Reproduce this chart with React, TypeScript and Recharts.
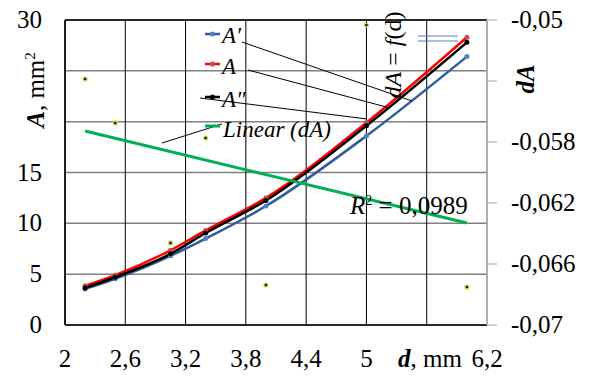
import React from 'react';
import {
  ComposedChart,
  Line,
  Scatter,
  XAxis,
  YAxis,
  CartesianGrid,
  ReferenceLine,
} from 'recharts';

// d, mm
const dValues = [2.2, 2.5, 3.05, 3.4, 4.0, 5.0, 6.0];
// A' , A , A'' (mm^2)
const aPrime = [3.55, 4.55, 6.8, 8.5, 11.7, 18.6, 26.4];
const aMain = [3.85, 4.9, 7.35, 9.3, 12.5, 19.9, 28.3];
const aDouble = [3.65, 4.7, 7.0, 9.05, 12.25, 19.6, 27.8];
// dA (right axis)
const dAValues = [-0.05387, -0.05675, -0.06462, -0.05774, -0.06738, -0.05033, -0.06751];
// Linear (dA) trendline ends
const trendD = [2.2, 6.0];
const trendDA = [-0.05728, -0.06331];

const xTicks = [2, 2.6, 3.2, 3.8, 4.4, 5, 5.6, 6.2];
const leftTicks = [0, 5, 10, 15, 20, 25, 30];
const rightTicks = [-0.07, -0.066, -0.062, -0.058, -0.054, -0.05];
const xHidden = [5.6];
const leftHidden = [20, 25];
const rightHidden = [-0.054];

const data = dValues.map((d, i) => ({
  d,
  a1: aPrime[i],
  a: aMain[i],
  a2: aDouble[i],
  dA: dAValues[i],
}));
const trendData = trendD.map((d, i) => ({ d, trend: trendDA[i] }));

const FONT = 'Liberation Serif';
const fmt = (v: number) => String(v).replace('.', ',');

const XTick = (props: any) => {
  const { x, payload } = props;
  if (xHidden.includes(payload.value)) return null;
  return (
    <text x={x} y={367} textAnchor="middle" fontFamily={FONT} fontSize={25} fill="#000">
      {fmt(payload.value)}
    </text>
  );
};

const LeftTick = (props: any) => {
  const { y, payload } = props;
  if (leftHidden.includes(payload.value)) return null;
  return (
    <text x={42} y={y + 8} textAnchor="end" fontFamily={FONT} fontSize={25} fill="#000">
      {fmt(payload.value)}
    </text>
  );
};

const RightTick = (props: any) => {
  const { y, payload } = props;
  if (rightHidden.includes(payload.value)) return null;
  return (
    <text x={511} y={y + 8} textAnchor="start" fontFamily={FONT} fontSize={25} fill="#000">
      {fmt(payload.value)}
    </text>
  );
};

const DADot = (props: any) => {
  const { cx, cy } = props;
  if (cx == null || cy == null) return null;
  return (
    <g>
      <circle cx={cx} cy={cy} r={2.6} fill="#c9d65a" />
      <circle cx={cx} cy={cy} r={1.3} fill="#1a1a1a" />
    </g>
  );
};

const BLUE = '#2f5d9b';
const BLUE_M = '#4f81bd';
const RED = '#ff0000';
const RED_M = '#c0504d';
const GREEN = '#00b050';

const legendRows = [
  { label: 'A′', color: BLUE, marker: BLUE_M, y: 34, ty: 43 },
  { label: 'A', color: RED, marker: RED_M, y: 64, ty: 74 },
  { label: 'A″', color: '#000', marker: '#000', y: 97, ty: 107 },
];

const css = `
@font-face { font-family: 'ChartSerif'; src: local('Liberation Serif'), local('LiberationSerif'); font-style: normal; font-weight: 400; }
@font-face { font-family: 'ChartSerif'; src: local('Liberation Serif Italic'), local('LiberationSerif-Italic'); font-style: italic; font-weight: 400; }
@font-face { font-family: 'ChartSerif'; src: local('Liberation Serif Bold Italic'), local('LiberationSerif-BoldItalic'); font-style: italic; font-weight: 700; }
#root svg text, #root svg tspan { font-family: 'Liberation Serif', 'ChartSerif', serif !important; }
`;

export default function App() {
  return (
    <div
      style={{
        position: 'absolute',
        left: 0,
        top: 0,
        width: 596,
        height: 376,
        background: '#fff',
        fontFamily: FONT,
      }}
    >
      <style>{css}</style>
      <ComposedChart
        width={596}
        height={376}
        data={data}
        margin={{ top: 20, right: 0, bottom: 0, left: 0 }}
      >
        <CartesianGrid
          yAxisId="left"
          vertical={false}
          stroke="#808080"
          strokeWidth={1.5}
          horizontalValues={leftTicks}
        />
        <CartesianGrid
          yAxisId="left"
          horizontal={false}
          stroke="#000"
          strokeWidth={1}
          verticalValues={xTicks}
        />
        <XAxis
          dataKey="d"
          type="number"
          domain={[2, 6.2]}
          ticks={xTicks}
          interval={0}
          height={51}
          axisLine={{ stroke: '#000', strokeWidth: 1.5 }}
          tickLine={false}
          tick={<XTick />}
          allowDataOverflow
        />
        <YAxis
          yAxisId="left"
          type="number"
          domain={[0, 30]}
          ticks={leftTicks}
          interval={0}
          width={65}
          axisLine={{ stroke: '#000', strokeWidth: 1.5 }}
          tickLine={false}
          tick={<LeftTick />}
        />
        <YAxis
          yAxisId="right"
          orientation="right"
          type="number"
          domain={[-0.07, -0.05]}
          ticks={rightTicks}
          interval={0}
          width={109}
          axisLine={{ stroke: '#bfbfbf', strokeWidth: 1.5 }}
          tickLine={{ stroke: '#bfbfbf', strokeWidth: 1.5 }}
          tickSize={10}
          tick={<RightTick />}
        />
        <ReferenceLine yAxisId="left" y={30} stroke="#000" strokeWidth={1.5} />
        <Scatter
          yAxisId="right"
          dataKey="dA"
          shape={<DADot />}
          isAnimationActive={false}
        />
        <Line
          yAxisId="left"
          type="monotone"
          dataKey="a1"
          stroke={BLUE}
          strokeWidth={2.5}
          dot={{ r: 2.5, fill: BLUE_M, stroke: 'none' }}
          activeDot={false}
          isAnimationActive={false}
        />
        <Line
          yAxisId="left"
          type="monotone"
          dataKey="a"
          stroke={RED}
          strokeWidth={2.5}
          dot={{ r: 2.5, fill: RED_M, stroke: 'none' }}
          activeDot={false}
          isAnimationActive={false}
        />
        <Line
          yAxisId="left"
          type="monotone"
          dataKey="a2"
          stroke="#000"
          strokeWidth={2.5}
          dot={{ r: 2.5, fill: '#000', stroke: 'none' }}
          activeDot={false}
          isAnimationActive={false}
        />
        <Line
          yAxisId="right"
          data={trendData}
          dataKey="trend"
          type="linear"
          stroke={GREEN}
          strokeWidth={3}
          dot={false}
          activeDot={false}
          isAnimationActive={false}
        />
      </ComposedChart>
      <svg
        width={596}
        height={376}
        fontFamily={FONT}
        style={{ position: 'absolute', left: 0, top: 0, pointerEvents: 'none' }}
      >
        {/* leader lines */}
        <g stroke="#000" strokeWidth={1}>
          <line x1={242} y1={42} x2={412} y2={101} />
          <line x1={248} y1={70} x2={390} y2={108} />
          <line x1={200} y1={98} x2={367} y2={119} />
          <line x1={162} y1={143} x2={222} y2={124} />
        </g>
        {/* legend */}
        {legendRows.map((r) => (
          <g key={r.label}>
            <line x1={205} y1={r.y} x2={220} y2={r.y} stroke={r.color} strokeWidth={2.5} />
            <circle cx={212.5} cy={r.y} r={2.5} fill={r.marker} />
            <text x={222} y={r.ty} fontFamily={FONT} fontSize={23} fontStyle="italic" fill="#000">
              {r.label}
            </text>
          </g>
        ))}
        <line x1={205} y1={126} x2={220} y2={126} stroke={GREEN} strokeWidth={3} />
        <text x={223} y={137} fontFamily={FONT} fontSize={23} fontStyle="italic" fill="#000">
          Linear (dA)
        </text>
        {/* dA = f(d) */}
        <text
          transform="translate(401,55) rotate(-90)"
          textAnchor="middle"
          fontFamily={FONT}
          fontSize={24}
          fill="#000"
        >
          <tspan fontStyle="italic">dA</tspan>
          <tspan> = </tspan>
          <tspan fontStyle="italic">f</tspan>
          <tspan>(d)</tspan>
        </text>
        <g stroke={BLUE_M} strokeWidth={1}>
          <line x1={418} y1={36} x2={458} y2={36} />
          <line x1={418} y1={41} x2={458} y2={41} />
        </g>
        {/* R^2 */}
        <text x={350} y={214} fontFamily={FONT} fontSize={25} fill="#000">
          <tspan fontStyle="italic">R</tspan>
          <tspan fontSize={14} dy={-9}>2</tspan>
          <tspan dy={9}> = 0,0989</tspan>
        </text>
        {/* axis titles */}
        <text
          transform="translate(44,90) rotate(-90)"
          textAnchor="middle"
          fontFamily={FONT}
          fontSize={25}
          fill="#000"
        >
          <tspan fontStyle="italic" fontWeight="bold">A</tspan>
          <tspan>, mm</tspan>
          <tspan fontSize={15} dy={-9}>2</tspan>
        </text>
        <text
          transform="translate(534,79) rotate(-90)"
          textAnchor="middle"
          fontFamily={FONT}
          fontSize={25}
          fill="#000"
        >
          <tspan fontStyle="italic" fontWeight="bold">dA</tspan>
        </text>
        <text x={430} y={367} textAnchor="middle" fontFamily={FONT} fontSize={25} fill="#000">
          <tspan fontStyle="italic" fontWeight="bold">d</tspan>
          <tspan>, mm</tspan>
        </text>
      </svg>
    </div>
  );
}
